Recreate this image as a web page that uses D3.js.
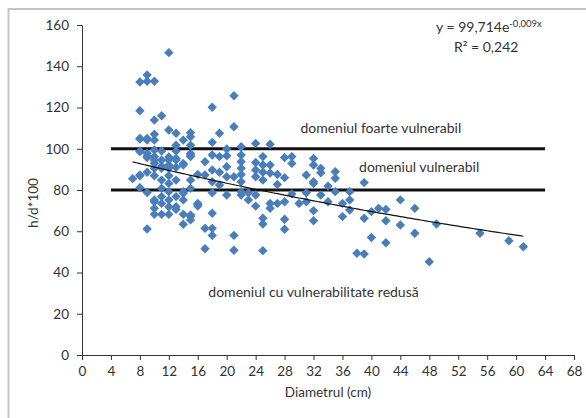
<!DOCTYPE html>
<html>
<head>
<meta charset="utf-8">
<script src="https://cdn.jsdelivr.net/npm/d3@7"></script>
<style>
  body { margin: 0; background: #fff; }
  svg text { font-family: Lato, "Open Sans", sans-serif; fill: #333; }
</style>
</head>
<body>
<div id="holder"></div>
<script>
// diameter (cm) and the h/d*100 values measured at that diameter
const diameters = [7, 8, 9, 10, 11, 12, 13, 14, 15, 16, 17, 18, 19, 20, 21, 22, 23, 24, 25, 26, 27, 28, 29, 30,
    31, 32, 33, 34, 35, 36, 37, 38, 39, 40, 41, 42, 44, 46, 48, 49, 55, 59, 61];
const ratios = [
    [85.5],
    [132.4, 118.4, 104.7, 98.9, 98.6, 86.9, 81.1, 87.3, 105],
    [135.8, 132.7, 104.2, 105, 97.8, 96.5, 95.7, 88.6, 78.8, 61.1],
    [132.7, 113.9, 107.0, 104.2, 99.4, 96.2, 94.5, 93, 90.5, 86.9, 75.2, 71.1, 68.2, 74.3],
    [116.0, 98.9, 94.5, 91.6, 90.5, 84.8, 80.8, 76.8, 73.5, 68.2],
    [146.6, 109.1, 96.0, 94.5, 92.1, 90.5, 86.9, 83.2, 79.2, 75.2, 71.9, 68.2],
    [107.5, 101.7, 98.9, 95.3, 94.5, 91, 84.8, 76.8, 71.9, 70.6],
    [104.2, 92.9, 92.1, 79.2, 78.4, 75.2, 68.2, 63.4],
    [107.8, 105.8, 101.7, 97.7, 97.0, 96.2, 84.8, 80.8, 67.9, 65.5, 67.1],
    [87.5, 73.5, 72.2, 73.1],
    [93.7, 87.3, 61.4, 51.5],
    [120.1, 103.1, 97.0, 89.7, 84.0, 78.7, 68.7, 61.4, 58.0],
    [107.5, 96.2, 88.6, 82.4],
    [99.9, 96.6, 91.3, 86.4, 77.6],
    [125.7, 110.7, 86.4, 58.0, 50.8],
    [101.0, 97.0, 93.7, 90.5, 87.5, 84.0, 77.6, 79.2],
    [78.7, 75.2],
    [102.6, 93.3, 89.7, 86.4, 77.6, 72.2],
    [96.2, 92.1, 88.6, 84.8, 66.3, 63.5, 50.6],
    [102.2, 92.1, 88.2, 73.5, 71.1],
    [87.5, 82.7, 73.5],
    [95.7, 86.0, 74.3, 65.8, 61.0],
    [96.2, 92.9, 78.1],
    [73.5],
    [87.3, 78.7, 74.3],
    [95.3, 92.1, 84.0, 83.2, 70.0, 65.1],
    [90.5, 88.4, 77.6],
    [81.9, 74.3],
    [88.9, 85.7, 79.2],
    [73.5, 67.1],
    [79.2, 75.2, 70.3],
    [49.3],
    [83.6, 66.3, 49.0],
    [69.5, 57.0],
    [71.1],
    [70.6, 65.1, 54.4],
    [75.2, 63.0],
    [71.1, 59.0],
    [45.2],
    [63.5],
    [59.0],
    [55.4],
    [52.5]
];

const xTicks = [0, 4, 8, 12, 16, 20, 24, 28, 32, 36, 40, 44, 48, 52, 56, 60, 64, 68];
const yTicks = [0, 20, 40, 60, 80, 100, 120, 140, 160];

// domain limits drawn as thick lines
const limits = [100, 80];
const limitSpan = [4, 64];

// exponential trend y = a * e^(b x)
const trendA = 99.714, trendB = -0.009;
const trendSpan = [7, 61.2];

const zones = [
    {text: "domeniul foarte vulnerabil", x: 41.3, y: 107.5},
    {text: "domeniul vulnerabil", x: 46.6, y: 88.5},
    {text: "domeniul cu vulnerabilitate redusă", x: 32, y: 28}
];

const w = 586, h = 418;
const plotLeft = 82, plotRight = 574, plotTop = 25, plotBottom = 355;

const points = diameters.flatMap((d, i) => ratios[i].map(r => ({d: d, r: r})));

const svg = d3.select('#holder')
    .append('svg')
    .attr('width', w)
    .attr('height', h);

// chart frame, only the top and left edges are inside the picture
svg.append('rect')
    .attr('x', 8.5)
    .attr('y', 9)
    .attr('width', 700)
    .attr('height', 600)
    .attr('fill', 'none')
    .attr('stroke', '#c4c4c4')
    .attr('stroke-width', 2);

const xScale = d3.scaleLinear().domain([0, 68]).range([plotLeft, plotRight]);
const yScale = d3.scaleLinear().domain([0, 160]).range([plotBottom, plotTop]);

const xAxis = d3.axisBottom(xScale).tickValues(xTicks).tickSize(5).tickSizeOuter(0).tickPadding(6);
const yAxis = d3.axisLeft(yScale).tickValues(yTicks).tickSize(5).tickSizeOuter(0).tickPadding(8);

svg.append('g')
    .attr('transform', `translate(0,${plotBottom})`)
    .call(xAxis)
    .call(g => g.selectAll('text').style('font-size', '13.5px').style('font-family', 'Lato').attr('fill', '#333'));

svg.append('g')
    .attr('transform', `translate(${plotLeft},0)`)
    .call(yAxis)
    .call(g => g.selectAll('text').style('font-size', '13.5px').style('font-family', 'Lato').attr('fill', '#333'));

svg.selectAll('.domain, .tick line').attr('stroke', '#333');

// limit lines
svg.selectAll('line.limit')
    .data(limits)
    .enter()
    .append('line')
    .attr('class', 'limit')
    .attr('x1', xScale(limitSpan[0]))
    .attr('x2', xScale(limitSpan[1]))
    .attr('y1', d => yScale(d))
    .attr('y2', d => yScale(d))
    .attr('stroke', '#111')
    .attr('stroke-width', 3);

// points
const diamond = 4.7;
svg.append('g')
    .selectAll('path')
    .data(points)
    .enter()
    .append('path')
    .attr('d', `M0,${-diamond}L${diamond},0L0,${diamond}L${-diamond},0Z`)
    .attr('transform', p => `translate(${xScale(p.d)},${yScale(p.r)})`)
    .attr('fill', '#4a7ebb');

// trend line
const trend = d3.range(trendSpan[0], trendSpan[1] + 0.01, 0.5).map(x => [x, trendA * Math.exp(trendB * x)]);
svg.append('path')
    .datum(trend)
    .attr('d', d3.line().x(d => xScale(d[0])).y(d => yScale(d[1])))
    .attr('fill', 'none')
    .attr('stroke', '#111')
    .attr('stroke-width', 1.2);

svg.selectAll('text.zone')
    .data(zones)
    .enter()
    .append('text')
    .attr('class', 'zone')
    .attr('x', d => xScale(d.x))
    .attr('y', d => yScale(d.y))
    .attr('text-anchor', 'middle')
    .style('font-size', '14px')
    .text(d => d.text);

// equation
const eq = svg.append('text')
    .attr('x', 436)
    .attr('y', 32)
    .style('font-size', '14px');
eq.append('tspan').text('y = 99,714e');
eq.append('tspan').attr('dy', -5).style('font-size', '9.5px').text('-0,009x');

const r2 = svg.append('text')
    .attr('x', 454)
    .attr('y', 52)
    .style('font-size', '14px');
r2.append('tspan').text('R² = 0,242');

svg.append('text')
    .attr('x', 328)
    .attr('y', 397)
    .attr('text-anchor', 'middle')
    .style('font-size', '13.5px')
    .text('Diametrul (cm)');

svg.append('text')
    .attr('transform', `translate(38,${(plotTop + plotBottom) / 2 + 13}) rotate(-90)`)
    .attr('text-anchor', 'middle')
    .style('font-size', '13.5px')
    .text('h/d*100');
</script>
</body>
</html>
